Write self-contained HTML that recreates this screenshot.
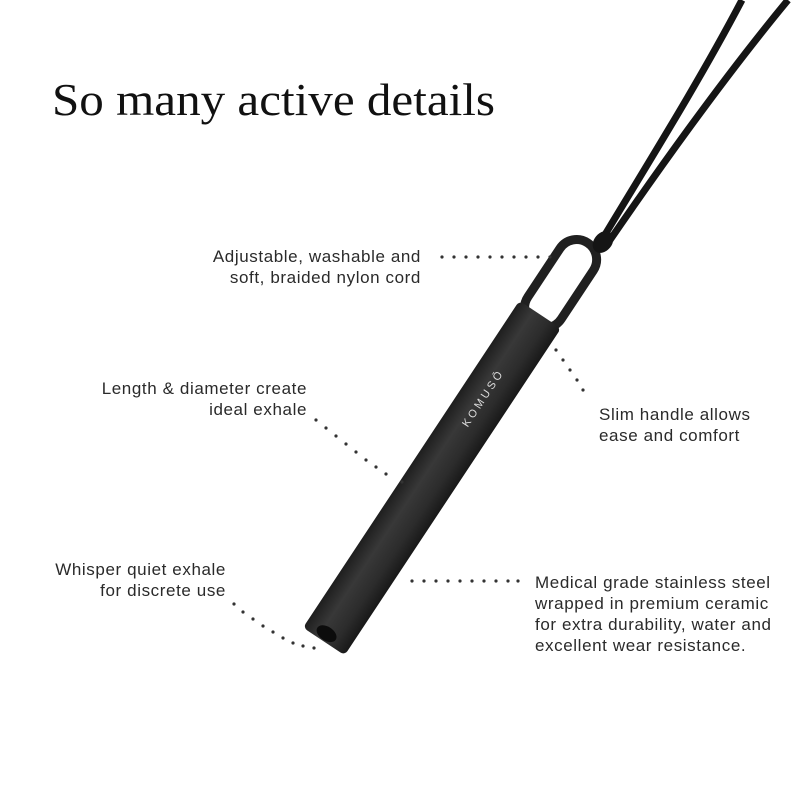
<!DOCTYPE html>
<html><head><meta charset="utf-8"><style>
html,body{margin:0;padding:0;background:#fff;width:800px;height:800px;overflow:hidden}
svg{display:block}
.l{font-family:"Liberation Sans",sans-serif;font-size:17px;letter-spacing:0.6px;fill:#2a2a2a}
</style></head><body>
<svg width="800" height="800" viewBox="0 0 800 800" xmlns="http://www.w3.org/2000/svg">
<defs>
<linearGradient id="g" x1="0" y1="0" x2="1" y2="0">
<stop offset="0" stop-color="#1e1e1e"/><stop offset="0.35" stop-color="#383838"/><stop offset="0.7" stop-color="#2c2c2c"/><stop offset="1" stop-color="#181818"/>
</linearGradient>
</defs>
<text x="52" y="115" font-family="Liberation Serif,serif" font-size="46" fill="#111" textLength="443" lengthAdjust="spacingAndGlyphs">So many active details</text>

<!-- cords -->
<path d="M603,238 C650,160 700,80 742,0" stroke="#151515" stroke-width="7" fill="none"/>
<path d="M610,240 C665,160 730,70 788,0" stroke="#151515" stroke-width="7" fill="none"/>

<g transform="translate(432,478) rotate(33.5)">
<rect x="-20" y="-282" width="40" height="98" rx="20" fill="none" stroke="#202020" stroke-width="9"/>
<rect x="-25" y="-196" width="50" height="392" rx="5" fill="url(#g)"/>
<ellipse cx="-2" cy="188" rx="11" ry="7" fill="#0c0c0c"/>
<text transform="translate(2,-95) rotate(-90)" text-anchor="middle" font-family="Liberation Sans,sans-serif" font-size="11" letter-spacing="3" fill="#ddd">KOMUSŌ</text>
</g>
<!-- knot -->
<ellipse cx="603" cy="242" rx="12" ry="9" transform="rotate(-50 603 242)" fill="#151515"/>

<!-- dotted leaders -->
<g fill="#333">
<circle cx="442" cy="257" r="1.6"/><circle cx="454" cy="257" r="1.6"/><circle cx="466" cy="257" r="1.6"/><circle cx="478" cy="257" r="1.6"/><circle cx="490" cy="257" r="1.6"/><circle cx="502" cy="257" r="1.6"/><circle cx="514" cy="257" r="1.6"/><circle cx="526" cy="257" r="1.6"/><circle cx="538" cy="257" r="1.6"/><circle cx="550" cy="257" r="1.6"/>
<circle cx="556" cy="350" r="1.6"/><circle cx="563" cy="360" r="1.6"/><circle cx="570" cy="370" r="1.6"/><circle cx="577" cy="380" r="1.6"/><circle cx="583" cy="390" r="1.6"/>
<circle cx="316" cy="420" r="1.6"/><circle cx="326" cy="428" r="1.6"/><circle cx="336" cy="436" r="1.6"/><circle cx="346" cy="444" r="1.6"/><circle cx="356" cy="452" r="1.6"/><circle cx="366" cy="460" r="1.6"/><circle cx="376" cy="467" r="1.6"/><circle cx="386" cy="474" r="1.6"/><circle cx="402" cy="482" r="1.6"/>
<circle cx="412" cy="581" r="1.6"/><circle cx="424" cy="581" r="1.6"/><circle cx="436" cy="581" r="1.6"/><circle cx="448" cy="581" r="1.6"/><circle cx="460" cy="581" r="1.6"/><circle cx="472" cy="581" r="1.6"/><circle cx="484" cy="581" r="1.6"/><circle cx="496" cy="581" r="1.6"/><circle cx="508" cy="581" r="1.6"/><circle cx="518" cy="581" r="1.6"/>
<circle cx="234" cy="604" r="1.6"/><circle cx="243" cy="612" r="1.6"/><circle cx="253" cy="619" r="1.6"/><circle cx="263" cy="626" r="1.6"/><circle cx="273" cy="632" r="1.6"/><circle cx="283" cy="638" r="1.6"/><circle cx="293" cy="643" r="1.6"/><circle cx="303" cy="646" r="1.6"/><circle cx="314" cy="648" r="1.6"/>
</g>

<g class="l" text-anchor="end">
<text x="421" y="262">Adjustable, washable and</text>
<text x="421" y="283">soft, braided nylon cord</text>
<text x="307" y="394">Length &amp; diameter create</text>
<text x="307" y="415">ideal exhale</text>
<text x="226" y="575">Whisper quiet exhale</text>
<text x="226" y="596">for discrete use</text>
</g>
<g class="l">
<text x="599" y="420">Slim handle allows</text>
<text x="599" y="441">ease and comfort</text>
<text x="535" y="588">Medical grade stainless steel</text>
<text x="535" y="609">wrapped in premium ceramic</text>
<text x="535" y="630">for extra durability, water and</text>
<text x="535" y="651">excellent wear resistance.</text>
</g>
</svg>
</body></html>
